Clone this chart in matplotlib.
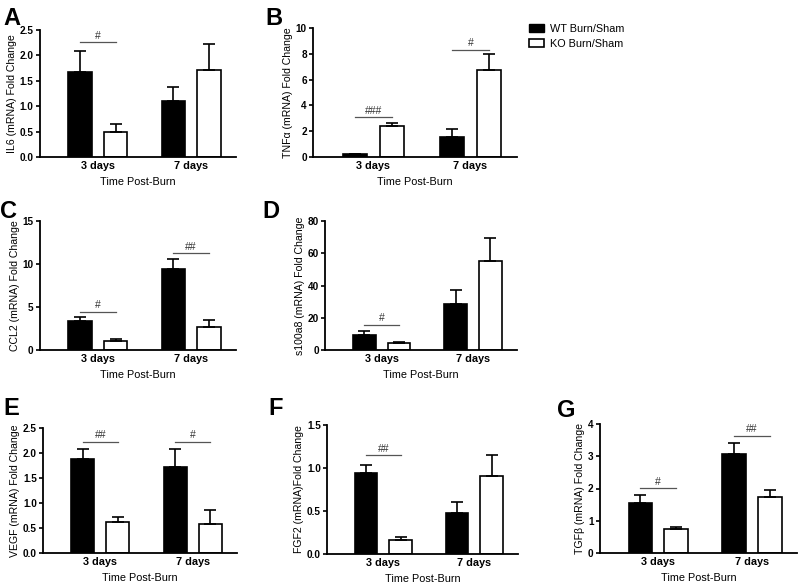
import numpy as np
import matplotlib.pyplot as plt
from matplotlib.patches import Patch

plt.rcParams['font.family'] = ['Liberation Sans', 'DejaVu Sans']

# data (mean, upper SEM end)
groups = ['3 days', '7 days']
genes = ['IL6', 'TNFα', 'CCL2', 's100a8', 'VEGF', 'FGF2', 'TGFβ']
ylabels = ['IL6 (mRNA) Fold Change', 'TNFα (mRNA) Fold Change',
           'CCL2 (mRNA) Fold Change', 's100a8 (mRNA) Fold Change',
           'VEGF (mRNA) Fold Change', 'FGF2 (mRNA)Fold Change',
           'TGFβ (mRNA) Fold Change']
letters = ['A', 'B', 'C', 'D', 'E', 'F', 'G']

wt_mean = [[1.68, 1.11], [0.22, 1.57], [3.37, 9.38], [9.5, 28.7],
           [1.88, 1.73], [0.94, 0.48], [1.55, 3.07]]
wt_top = [[2.08, 1.37], [0.27, 2.17], [3.84, 10.54], [11.5, 37.1],
          [2.08, 2.09], [1.04, 0.61], [1.79, 3.40]]
ko_mean = [[0.49, 1.71], [2.43, 6.74], [1.09, 2.71], [4.1, 55.5],
           [0.63, 0.59], [0.16, 0.91], [0.75, 1.73]]
ko_top = [[0.64, 2.22], [2.63, 7.99], [1.32, 3.49], [5.0, 69.7],
          [0.73, 0.87], [0.20, 1.15], [0.82, 1.94]]

ylims = [2.5, 10, 15, 80, 2.5, 1.5, 4]
yticks = [[0, 0.5, 1.0, 1.5, 2.0, 2.5], [0, 2, 4, 6, 8, 10], [0, 5, 10, 15],
          [0, 20, 40, 60, 80], [0, 0.5, 1.0, 1.5, 2.0, 2.5],
          [0, 0.5, 1.0, 1.5], [0, 1, 2, 3, 4]]
ytick_fmt = ['{:.1f}', '{:g}', '{:g}', '{:g}', '{:.1f}', '{:.1f}', '{:g}']

# significance marks: (group index, label, height)
sig = [[(0, '#', 2.26)], [(0, '###', 3.08), (1, '#', 8.3)],
       [(0, '#', 4.42), (1, '##', 11.24)], [(0, '#', 15.5)],
       [(0, '##', 2.22), (1, '#', 2.22)], [(0, '##', 1.15)],
       [(0, '#', 2.01), (1, '##', 3.64)]]

# axes boxes in pixels: left, top, right, bottom
boxes = [(40, 30, 236, 157), (313, 28, 517, 157),
         (40, 221, 236, 350), (325, 221, 517, 350),
         (43, 428, 237, 553), (327, 425, 518, 554),
         (600, 424, 797, 553)]
letter_pos = [(3, 25), (265, 25), (0, 218), (262, 218),
              (3, 415), (268, 415), (557, 417)]

W, H = 800, 586
fig = plt.figure(figsize=(8, 5.86), dpi=100)

x = np.arange(len(groups))
off, bw = 0.19, 0.25
for i in range(len(genes)):
    l, t, r, b = boxes[i]
    ax = fig.add_axes([l / W, 1 - b / H, (r - l) / W, (b - t) / H])
    wm, km = np.array(wt_mean[i]), np.array(ko_mean[i])
    we, ke = np.array(wt_top[i]) - wm, np.array(ko_top[i]) - km
    ax.bar(x - off, wm, bw, color='black', edgecolor='black', linewidth=1.2)
    ax.bar(x + off, km, bw, color='white', edgecolor='black', linewidth=1.2)
    ax.errorbar(x - off, wm, yerr=[np.zeros(2), we], fmt='none', ecolor='black',
                elinewidth=1.2, capsize=4, capthick=1.2)
    ax.errorbar(x + off, km, yerr=[np.zeros(2), ke], fmt='none', ecolor='black',
                elinewidth=1.2, capsize=4, capthick=1.2)
    for g, lab, h in sig[i]:
        ax.plot([g - off, g + off], [h, h], color='#555555', lw=0.9)
        ax.text(g, h + ylims[i] * 0.012, lab, ha='center', va='bottom',
                fontsize=7.5, color='#333333')
    ax.set_xlim(-0.62, 1.48)
    ax.set_ylim(0, ylims[i])
    ax.set_yticks(yticks[i])
    ax.set_yticklabels([ytick_fmt[i].format(v) for v in yticks[i]],
                       fontsize=7.2, fontweight='bold')
    ax.set_xticks(x)
    ax.set_xticklabels(groups, fontsize=7.8, fontweight='bold')
    ax.tick_params(axis='x', length=0, pad=3)
    ax.tick_params(axis='y', length=3, width=1.2, pad=1.5)
    for s in ['top', 'right']:
        ax.spines[s].set_visible(False)
    for s in ['left', 'bottom']:
        ax.spines[s].set_linewidth(1.3)
    ax.set_ylabel(ylabels[i], fontsize=7.6, labelpad=2)
    ax.set_xlabel('Time Post-Burn', fontsize=7.8, labelpad=4)
    lx, ly = letter_pos[i]
    fig.text(lx / W, 1 - ly / H, letters[i], fontsize=17, fontweight='bold',
             ha='left', va='baseline')

handles = [Patch(facecolor='black', edgecolor='black'),
           Patch(facecolor='white', edgecolor='black', linewidth=1.2)]
fig.legend(handles, ['WT Burn/Sham', 'KO Burn/Sham'], loc='upper left',
           bbox_to_anchor=(519 / W, 1 - 14 / H), frameon=False, fontsize=7.8,
           handlelength=1.4, handleheight=0.8, handletextpad=0.6,
           labelspacing=0.45)

fig.savefig('out.png', dpi=100)
